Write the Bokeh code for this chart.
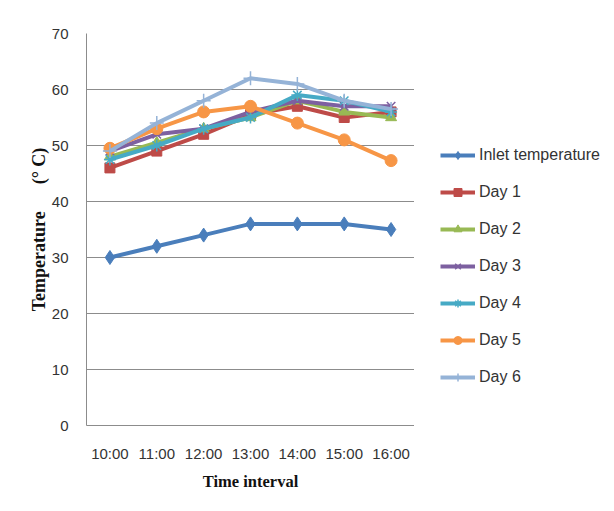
from bokeh.plotting import figure
from bokeh.layouts import row
from bokeh.models import Legend, LegendItem, FactorRange, Range1d, SingleIntervalTicker
from bokeh.embed import file_html
from bokeh.resources import INLINE

times = ["10:00", "11:00", "12:00", "13:00", "14:00", "15:00", "16:00"]
inlet = [30, 32, 34, 36, 36, 36, 35]
day1 = [46, 49, 52, 55.5, 57, 55, 56]
day2 = [48, 50.5, 53, 55, 58, 56, 55]
day3 = [49, 52, 53, 56, 58, 57, 57]
day4 = [47.5, 50, 53, 55, 59, 58, 56]
day5 = [49.5, 53, 56, 57, 54, 51, 47.3]
day6 = [49, 54, 58, 62, 61, 58, 56.5]

series = [
    ("Inlet temperature", inlet, "#4A7EBB", "diamond", 14),
    ("Day 1", day1, "#BE4B48", "square", 10),
    ("Day 2", day2, "#98B954", "triangle", 11),
    ("Day 3", day3, "#7D60A0", "x", 12),
    ("Day 4", day4, "#46AAC5", "asterisk", 12),
    ("Day 5", day5, "#F79646", "circle", 12),
    ("Day 6", day6, "#95B3D7", "cross", 14),
]

p = figure(width=414, height=505, x_range=FactorRange(*times, range_padding=0),
           y_range=Range1d(0, 70), output_backend="svg", toolbar_location=None,
           min_border_left=86, min_border_right=0, min_border_top=33, min_border_bottom=80)
p.outline_line_color = None

p.xgrid.grid_line_color = None
p.ygrid.grid_line_color = "#8c8c8c"
p.ygrid.grid_line_width = 1
p.yaxis.ticker = SingleIntervalTicker(interval=10)

for ax in (p.xaxis[0], p.yaxis[0]):
    ax.axis_line_color = "#8c8c8c"
    ax.major_tick_line_color = None
    ax.minor_tick_line_color = None
    ax.major_tick_out = 0
    ax.major_tick_in = 0
    ax.major_label_text_font = "Liberation Sans"
    ax.major_label_text_font_size = "15px"
    ax.major_label_text_color = "#333333"
    ax.axis_label_text_font = "Liberation Serif"
    ax.axis_label_text_font_style = "bold"
    ax.axis_label_text_color = "#111111"

p.yaxis.axis_label = "Temperature\u00a0\u00a0\u00a0\u00a0\u00a0\u00a0(°\u00a0C)"
p.xaxis.axis_label = "Time interval"
p.yaxis.axis_label_text_font_size = "18px"
p.xaxis.axis_label_text_font_size = "16.5px"
p.yaxis.major_label_standoff = 14
p.xaxis.major_label_standoff = 19
p.yaxis.axis_label_standoff = 0
p.xaxis.axis_label_standoff = 7


def draw(fig, name, vals, color, marker, size):
    r1 = fig.line(times, vals, line_color=color, line_width=4)
    if marker in ("x", "asterisk", "cross"):
        r2 = fig.scatter(times, vals, marker=marker, size=size, line_color=color, line_width=1.5)
    else:
        r2 = fig.scatter(times, vals, marker=marker, size=size, fill_color=color, line_color=color)
    return r1, r2


for s in series:
    draw(p, *s)

# legend panel: same series drawn out of view, only to supply legend glyphs
lf = figure(width=194, height=505, x_range=FactorRange(*times), y_range=Range1d(100, 101),
            x_axis_type=None, y_axis_type=None, output_backend="svg",
            toolbar_location=None, min_border=0)
lf.outline_line_color = None
lf.grid.visible = False

items = []
for s in series:
    r1, r2 = draw(lf, *s)
    items.append(LegendItem(label=s[0], renderers=[r1, r2]))

legend = Legend(items=items, location=(26, 38), padding=0, margin=0,
                glyph_width=35, glyph_height=20, spacing=17, label_standoff=4,
                label_text_font="Liberation Sans", label_text_font_size="16px",
                label_text_color="#333333", border_line_color=None,
                background_fill_alpha=0)
lf.add_layout(legend, "center")

layout = row(p, lf, spacing=0)
open("out.html", "w").write(file_html(layout, INLINE))
